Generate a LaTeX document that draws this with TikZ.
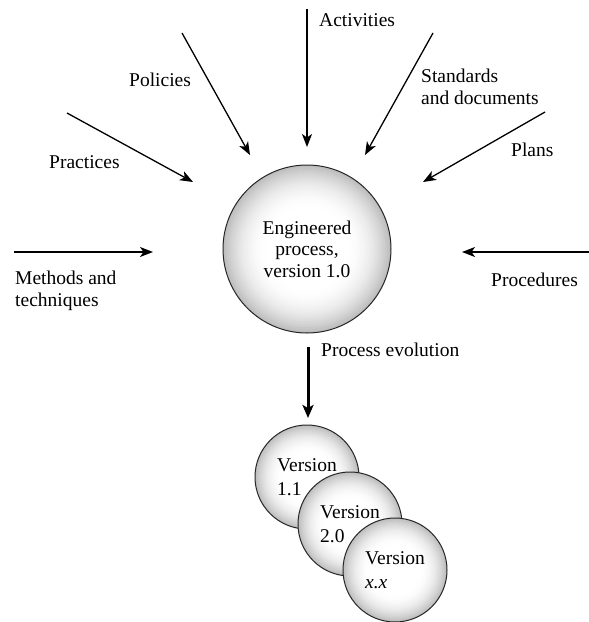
\documentclass[tikz,border=0pt]{standalone}
\usepackage{fontspec}
\setmainfont{Liberation Serif}
\usetikzlibrary{arrows.meta}
\newcommand{\ballfill}[3]{%
  \fill[white] (#1,#2) circle[radius=#3];
  \foreach \k in {0,...,24}{%
    \pgfmathsetmacro{\rfrac}{1-\k*0.55/24}%
    \pgfmathsetmacro{\glev}{26*((\rfrac-0.45)/0.55)^2.2}%
    \fill[black!\glev] (#1,#2) circle[radius=\rfrac*#3];
  }%
}
\tikzset{
  lbl/.style={anchor=west, inner sep=0pt, align=left, font=\fontsize{19.5}{22}\selectfont},
  feed/.style={draw=black, line width=1.3pt, -{Stealth[length=13pt,width=10pt,inset=3.5pt]}},
  evol/.style={draw=black, line width=3pt, -{Stealth[length=13pt,width=11pt,inset=3pt]}},
  bigball/.style={circle, draw=black!85, line width=1pt, minimum size=168pt, inner sep=0pt, align=center, font=\fontsize{19.5}{21.5}\selectfont},
  verball/.style={circle, draw=black!85, line width=1pt, minimum size=104pt, inner sep=0pt, align=left, font=\fontsize{19.5}{24}\selectfont}
}
\begin{document}
\begin{tikzpicture}[x=1pt,y=-1pt]
\useasboundingbox (0,0) rectangle (589,622);
% main circle
\ballfill{307}{249}{84}
\node[bigball] (main) at (307,249) {Engineered\\process,\\version 1.0};
% version circles
\ballfill{307}{477}{52}
\node[verball] (v11) at (307,477) {Version\\1.1};
\ballfill{350}{524}{52}
\node[verball] (v20) at (350,524) {Version\\2.0};
\ballfill{395}{570}{52}
\node[verball] (vxx) at (395,570) {Version\\\textit{x.x}};
% coordinates
\coordinate (actS) at (307,9);   \coordinate (actE) at (307,147);
\coordinate (stdS) at (433,33);  \coordinate (stdE) at (365,155);
\coordinate (plnS) at (545,112); \coordinate (plnE) at (423,182);
\coordinate (polS) at (182,33);  \coordinate (polE) at (250,155);
\coordinate (prcS) at (67,113);  \coordinate (prcE) at (193,182);
\coordinate (metS) at (14,252);  \coordinate (metE) at (153,252);
\coordinate (proS) at (589,252); \coordinate (proE) at (462,252);
\coordinate (evoS) at (308,347); \coordinate (evoE) at (308,418);
% arrows
\draw[feed] (actS) -- (actE);
\draw[feed] (stdS) -- (stdE);
\draw[feed] (plnS) -- (plnE);
\draw[feed] (polS) -- (polE);
\draw[feed] (prcS) -- (prcE);
\draw[feed] (metS) -- (metE);
\draw[feed] (proS) -- (proE);
\draw[evol] (evoS) -- (evoE);
% labels
\node[lbl] (lact) at (319,20) {Activities};
\node[lbl] (lstd) at (421,87) {Standards\\and documents};
\node[lbl] (lpln) at (511,150) {Plans};
\node[lbl] (lpol) at (129,80) {Policies};
\node[lbl] (lprc) at (49,162) {Practices};
\node[lbl] (lmet) at (15,291) {Methods and\\techniques};
\node[lbl] (lpro) at (491,280) {Procedures};
\node[lbl] (levo) at (321,350) {Process evolution};
\end{tikzpicture}
\end{document}
